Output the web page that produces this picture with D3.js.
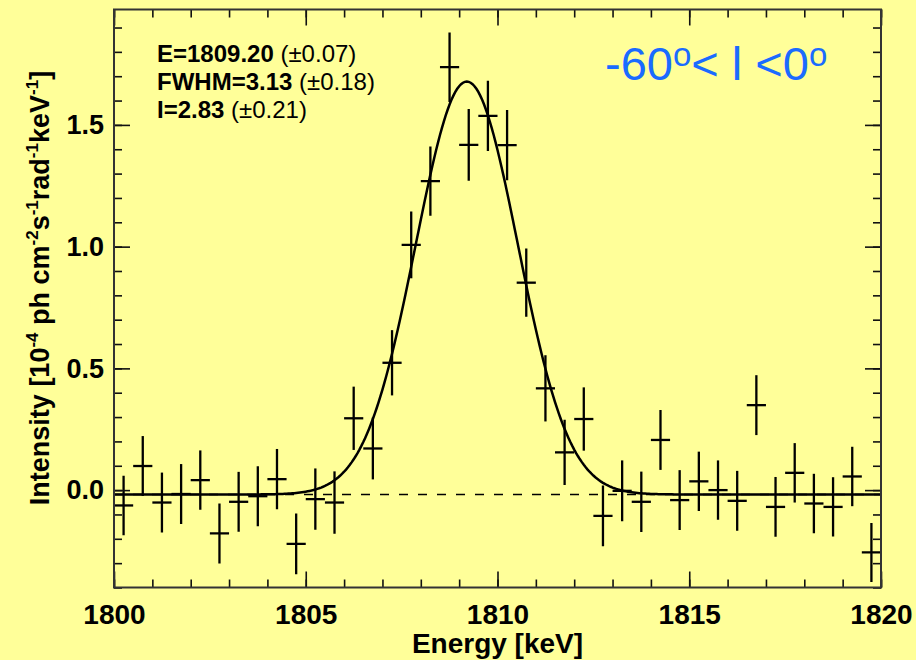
<!DOCTYPE html>
<html>
<head>
<meta charset="utf-8">
<script src="https://cdn.jsdelivr.net/npm/d3@7"></script>
<style>
  body { margin: 0; background: #ffff99; }
  svg { display: block; font-family: "Liberation Sans", Arial, sans-serif; }
</style>
</head>
<body>
<div id="chart"></div>
<script>
// bin centres [keV], 0.5 keV bins
var energy = [1800.25, 1800.75, 1801.25, 1801.75, 1802.25, 1802.75, 1803.25, 1803.75, 1804.25, 1804.75,
              1805.25, 1805.75, 1806.25, 1806.75, 1807.25, 1807.75, 1808.25, 1808.75, 1809.25, 1809.75,
              1810.25, 1810.75, 1811.25, 1811.75, 1812.25, 1812.75, 1813.25, 1813.75, 1814.25, 1814.75,
              1815.25, 1815.75, 1816.25, 1816.75, 1817.25, 1817.75, 1818.25, 1818.75, 1819.25, 1819.75];
var intensity = [-0.063, 0.099, -0.051, -0.016, 0.041, -0.178, -0.048, -0.025, 0.045, -0.221,
                 -0.037, -0.051, 0.295, 0.171, 0.523, 1.007, 1.269, 1.737, 1.418, 1.537,
                 1.417, 0.852, 0.418, 0.155, 0.292, -0.106, -0.003, -0.048, 0.206, -0.041,
                 0.036, 0.000, -0.044, 0.349, -0.069, 0.071, -0.055, -0.069, 0.056, -0.256];
var sigma = [0.122, 0.123, 0.123, 0.123, 0.122, 0.123, 0.123, 0.123, 0.124, 0.125,
             0.126, 0.128, 0.130, 0.127, 0.134, 0.137, 0.142, 0.143, 0.147, 0.144,
             0.144, 0.140, 0.136, 0.134, 0.130, 0.125, 0.125, 0.124, 0.123, 0.123,
             0.122, 0.122, 0.123, 0.123, 0.123, 0.122, 0.122, 0.122, 0.122, 0.121];
var binHalf = 0.25;

// fitted line (values printed on the plot)
var fitCentre = 1809.20, fitFwhm = 3.13, fitPeak = 1.696, fitBase = -0.018;

var xMajor = [1800, 1805, 1810, 1815, 1820];
var xMinor = d3.range(1800, 1821, 1);
var yMajor = [0.0, 0.5, 1.0, 1.5];
var yMinor = [-0.4, -0.3, -0.2, -0.1, 0, 0.1, 0.2, 0.3, 0.4, 0.5, 0.6, 0.7, 0.8, 0.9, 1.0, 1.1, 1.2, 1.3, 1.4, 1.5, 1.6, 1.7, 1.8, 1.9];

var W = 916, H = 660;
var pL = 114, pR = 881, pT = 9.5, pB = 587.5;

var svg = d3.select("#chart").append("svg").attr("width", W).attr("height", H);
svg.append("rect").attr("width", W).attr("height", H).attr("fill", "#ffff99");

var x = d3.scaleLinear().domain([1800, 1820]).range([pL, pR]);
var y = d3.scaleLinear().domain([-0.4, 1.974]).range([pB, pT]);

svg.append("clipPath").attr("id", "clip")
  .append("rect").attr("x", pL).attr("y", pT).attr("width", pR - pL).attr("height", pB - pT);

var plot = svg.append("g").attr("clip-path", "url(#clip)");

// zero line (dashed)
plot.append("line")
  .attr("x1", pL).attr("x2", pR)
  .attr("y1", y(fitBase)).attr("y2", y(fitBase))
  .attr("stroke", "#000").attr("stroke-width", 1.3)
  .attr("stroke-dasharray", "9,10");

// data crosses
var pts = energy.map(function(e, i){ return {e: e, v: intensity[i], s: sigma[i]}; });
var cross = plot.append("g").selectAll("g").data(pts).enter().append("g");
cross.append("line")
  .attr("x1", function(d){ return x(d.e - binHalf); })
  .attr("x2", function(d){ return x(d.e + binHalf); })
  .attr("y1", function(d){ return y(d.v); })
  .attr("y2", function(d){ return y(d.v); })
  .attr("stroke", "#000").attr("stroke-width", 2.3);
cross.append("line")
  .attr("x1", function(d){ return x(d.e); })
  .attr("x2", function(d){ return x(d.e); })
  .attr("y1", function(d){ return y(d.v - d.s); })
  .attr("y2", function(d){ return y(d.v + d.s); })
  .attr("stroke", "#000").attr("stroke-width", 2.3);

// gaussian fit
var sig = fitFwhm / (2 * Math.sqrt(2 * Math.log(2)));
var curve = d3.range(1800, 1820.001, 0.05).map(function(e){
  return [e, fitBase + fitPeak * Math.exp(-0.5 * Math.pow((e - fitCentre) / sig, 2))];
});
plot.append("path")
  .datum(curve)
  .attr("fill", "none").attr("stroke", "#000").attr("stroke-width", 2.5)
  .attr("d", d3.line().x(function(d){ return x(d[0]); }).y(function(d){ return y(d[1]); }));

// axes, ticks inward on all four sides
function addAxis(axis, tx, ty, cls){
  var g = svg.append("g").attr("class", cls).attr("transform", "translate(" + tx + "," + ty + ")").call(axis);
  g.select(".domain").remove();
  g.selectAll(".tick line").attr("stroke", "#111").attr("stroke-width", 1.6);
  g.selectAll("text").attr("font-size", 27).attr("font-weight", "bold").attr("fill", "#000")
    .attr("font-family", "Liberation Sans, Arial, sans-serif");
  return g;
}
var none = function(){ return ""; };
addAxis(d3.axisBottom(x).tickValues(xMinor).tickSize(-8).tickFormat(none), 0, pB, "xminor");
addAxis(d3.axisBottom(x).tickValues(xMajor).tickSize(-16).tickPadding(17).tickFormat(d3.format("d")), 0, pB, "xmajor")
  .selectAll("text").attr("font-size", 28);
addAxis(d3.axisTop(x).tickValues(xMinor).tickSize(-8).tickFormat(none), 0, pT, "xtop");
addAxis(d3.axisTop(x).tickValues(xMajor).tickSize(-16).tickFormat(none), 0, pT, "xtop2");
addAxis(d3.axisLeft(y).tickValues(yMinor).tickSize(-8).tickFormat(none), pL, 0, "yminor");
addAxis(d3.axisLeft(y).tickValues(yMajor).tickSize(-16).tickPadding(10).tickFormat(d3.format(".1f")), pL, 0, "ymajor");
addAxis(d3.axisRight(y).tickValues(yMinor).tickSize(-8).tickFormat(none), pR, 0, "yright");
addAxis(d3.axisRight(y).tickValues(yMajor).tickSize(-16).tickFormat(none), pR, 0, "yright2");

// frame
svg.append("rect")
  .attr("x", pL).attr("y", pT).attr("width", pR - pL).attr("height", pB - pT)
  .attr("fill", "none").attr("stroke", "#333").attr("stroke-width", 2);

// axis titles
svg.append("text")
  .attr("x", (pL + pR) / 2).attr("y", 653)
  .attr("text-anchor", "middle").attr("font-size", 28).attr("font-weight", "bold")
  .text("Energy [keV]");

var yl = svg.append("text")
  .attr("transform", "translate(49," + 288 + ") rotate(-90)")
  .attr("text-anchor", "middle").attr("font-size", 27).attr("font-weight", "bold");
var yParts = [["Intensity [10", 0], ["-4", 1], [" ph cm", 0], ["-2", 1], ["s", 0], ["-1", 1],
              ["rad", 0], ["-1", 1], ["keV", 0], ["-1", 1], ["]", 0]];
var prevSup = 0;
yParts.forEach(function(p){
  var t = yl.append("tspan").text(p[0]);
  if (p[1]) { t.attr("font-size", 17).attr("dy", -11); }
  else if (prevSup) { t.attr("dy", 11); }
  prevSup = p[1];
});

// fit results
var fitText = [["E=1809.20", " (\u00b10.07)"], ["FWHM=3.13", " (\u00b10.18)"], ["I=2.83", " (\u00b10.21)"]];
fitText.forEach(function(r, i){
  var t = svg.append("text").attr("x", 157).attr("y", 62 + i * 28).attr("font-size", 24);
  t.append("tspan").attr("font-weight", "bold").text(r[0]);
  t.append("tspan").text(r[1]);
});

// longitude range
var lab = svg.append("text").attr("x", 605).attr("y", 80).attr("font-size", 47).attr("fill", "#1a6bff");
lab.append("tspan").text("-60");
lab.append("tspan").attr("font-size", 33).attr("dy", -14).text("o");
lab.append("tspan").attr("dy", 14).text("< l <0");
lab.append("tspan").attr("font-size", 33).attr("dy", -14).text("o");
</script>
</body>
</html>
